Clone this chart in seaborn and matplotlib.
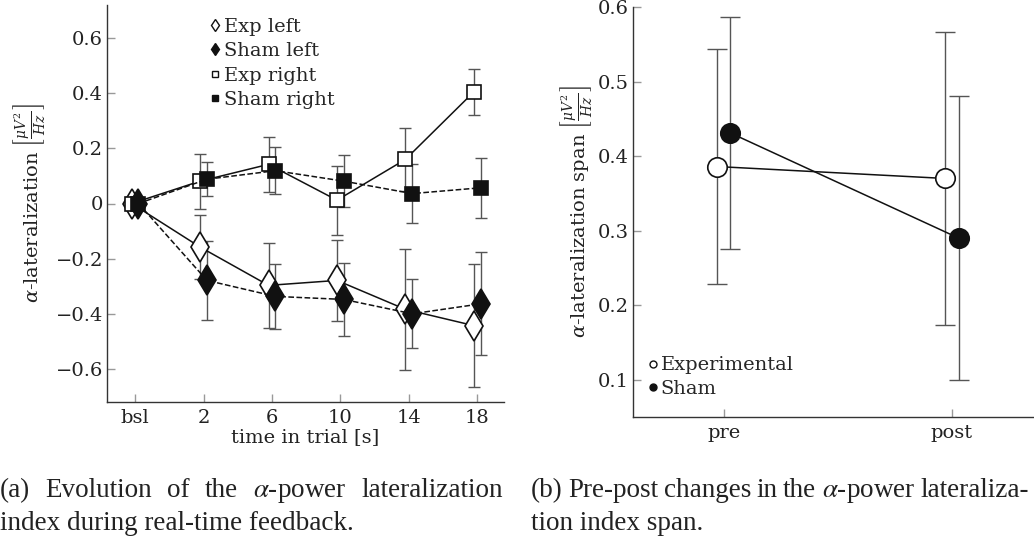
import numpy as np
import matplotlib
matplotlib.use('Agg')
import matplotlib.pyplot as plt
import seaborn as sns
from matplotlib.lines import Line2D

# ---------------- data ----------------
time_labels = ['bsl', '2', '6', '10', '14', '18']
exp_left = [0.0, -0.158, -0.297, -0.279, -0.384, -0.443]
exp_left_err = [0.0, 0.115, 0.154, 0.147, 0.220, 0.222]
sham_left = [0.0, -0.279, -0.337, -0.348, -0.400, -0.364]
sham_left_err = [0.0, 0.142, 0.118, 0.131, 0.125, 0.187]
exp_right = [0.0, 0.081, 0.142, 0.012, 0.160, 0.405]
exp_right_err = [0.0, 0.100, 0.100, 0.125, 0.113, 0.084]
sham_right = [0.0, 0.088, 0.119, 0.081, 0.036, 0.057]
sham_right_err = [0.0, 0.062, 0.086, 0.095, 0.107, 0.108]
left_ytick_vals = [-0.6, -0.4, -0.2, 0.0, 0.2, 0.4, 0.6]
left_ytick_labels = ['\u22120.6', '\u22120.4', '\u22120.2', '0', '0.2', '0.4', '0.6']

phase_labels = ['pre', 'post']
span_exp = [0.386, 0.370]
span_exp_err = [0.158, 0.196]
span_sham = [0.431, 0.290]
span_sham_err = [0.155, 0.190]
right_ytick_vals = [0.1, 0.2, 0.3, 0.4, 0.5, 0.6]

caption_a = [r'(a) Evolution of the $\alpha$-power lateralization',
             'index during real-time feedback.']
caption_b = [r'(b) Pre-post changes in the $\alpha$-power lateraliza-',
             'tion index span.']

# ---------------- style ----------------
sns.set_style('ticks')
plt.rcParams['font.family'] = ['DejaVu Serif']
plt.rcParams['mathtext.fontset'] = 'dejavuserif'

W, H = 1034, 541
fig = plt.figure(figsize=(W / 100, H / 100), dpi=100)
fig.patch.set_facecolor('white')

def px_axes(l, t, r, b):
    return fig.add_axes([l / W, 1 - b / H, (r - l) / W, (b - t) / H])

ax1 = px_axes(107, 5, 504, 402)
ax2 = px_axes(633, 7, 1034, 417)

LINE = '#111111'
ERR = '#555555'
FS = 14

# ---------------- left panel ----------------
xi = np.arange(len(time_labels))
dodge = 0.05
series = [
    (exp_left, exp_left_err, 'd', 15, 'white', '-', -dodge),
    (sham_left, sham_left_err, 'd', 15, LINE, '--', dodge),
    (exp_right, exp_right_err, 's', 10, 'white', '-', -dodge),
    (sham_right, sham_right_err, 's', 10, LINE, '--', dodge),
]
for vals, errs, mk, ms, fc, ls, off in series:
    xs = xi + off
    err_arr = np.array(errs)
    mask = err_arr > 0
    ax1.errorbar(xs[mask], np.array(vals)[mask], yerr=err_arr[mask], fmt='none',
                 ecolor=ERR, elinewidth=1.0, capsize=4.5, capthick=1.0, zorder=2)
    sns.lineplot(x=xs, y=vals, ax=ax1, color=LINE, linewidth=1.1, linestyle=ls,
                 marker=mk, markersize=ms, markerfacecolor=fc, markeredgecolor=LINE,
                 markeredgewidth=1.2, sort=False, errorbar=None, zorder=3,
                 dashes=False if ls == '-' else (5, 3.5))

ax1.set_xlim(-0.41, 5.39)
ax1.set_ylim(-0.72, 0.72)
ax1.set_xticks(xi)
ax1.set_xticklabels(time_labels)
ax1.set_yticks(left_ytick_vals)
ax1.set_yticklabels(left_ytick_labels)
ax1.set_xlabel('time in trial [s]', fontsize=FS)
ax1.xaxis.set_label_coords(0.5, -0.065)
ax1.set_ylabel(r'$\alpha$-lateralization $\left[\frac{\mu V^2}{Hz}\right]$', fontsize=FS)
ax1.yaxis.set_label_coords(-0.15, 0.5)

leg_handles1 = [
    Line2D([], [], linestyle='none', marker='d', markersize=6.5, markerfacecolor='white',
           markeredgecolor=LINE, markeredgewidth=1.0),
    Line2D([], [], linestyle='none', marker='d', markersize=6.5, markerfacecolor=LINE,
           markeredgecolor=LINE),
    Line2D([], [], linestyle='none', marker='s', markersize=4.5, markerfacecolor='white',
           markeredgecolor=LINE, markeredgewidth=1.0),
    Line2D([], [], linestyle='none', marker='s', markersize=4.5, markerfacecolor=LINE,
           markeredgecolor=LINE),
]
ax1.legend(leg_handles1, ['Exp left', 'Sham left', 'Exp right', 'Sham right'],
           loc='upper left', bbox_to_anchor=(0.262, 0.968), frameon=False,
           handlelength=0.45, handletextpad=0.2, labelspacing=0.33,
           borderpad=0, borderaxespad=0, fontsize=FS)

# ---------------- right panel ----------------
xp = np.arange(len(phase_labels))
dodge2 = 0.03
for vals, errs, fc, off in [(span_exp, span_exp_err, 'white', -dodge2),
                            (span_sham, span_sham_err, LINE, dodge2)]:
    xs = xp + off
    ax2.errorbar(xs, vals, yerr=errs, fmt='none', ecolor=ERR, elinewidth=1.0,
                 capsize=7, capthick=1.0, zorder=2)
    sns.lineplot(x=xs, y=vals, ax=ax2, color=LINE, linewidth=1.1, marker='o',
                 markersize=14, markerfacecolor=fc, markeredgecolor=LINE,
                 markeredgewidth=1.2, sort=False, errorbar=None, zorder=3)

ax2.set_xlim(-0.397, 1.36)
ax2.set_ylim(0.05, 0.6)
ax2.set_xticks(xp)
ax2.set_xticklabels(phase_labels)
ax2.set_yticks(right_ytick_vals)
ax2.set_yticklabels([f'{v:.1f}' for v in right_ytick_vals])
ax2.set_ylabel(r'$\alpha$-lateralization span $\left[\frac{\mu V^2}{Hz}\right]$', fontsize=FS)
ax2.yaxis.set_label_coords(-0.098, 0.5)

leg_handles2 = [
    Line2D([], [], linestyle='none', marker='o', markersize=5, markerfacecolor='white',
           markeredgecolor=LINE, markeredgewidth=1.0),
    Line2D([], [], linestyle='none', marker='o', markersize=5, markerfacecolor=LINE,
           markeredgecolor=LINE),
]
ax2.legend(leg_handles2, ['Experimental', 'Sham'], loc='upper left',
           bbox_to_anchor=(0.04, 0.148), frameon=False, handlelength=0.45,
           handletextpad=0.15, labelspacing=0.3, borderpad=0, borderaxespad=0,
           fontsize=FS)

for ax in (ax1, ax2):
    sns.despine(ax=ax)
    for s in ('left', 'bottom'):
        ax.spines[s].set_color('#333333')
        ax.spines[s].set_linewidth(1.0)
    ax.tick_params(direction='in', length=6, width=1.0, color='#999999',
                   labelsize=FS, labelcolor='#222222')
    ax.tick_params(axis='y', pad=3)
    ax.tick_params(axis='x', pad=5)
    ax.set_facecolor('white')
    ax.xaxis.label.set_color('#222222')
    ax.yaxis.label.set_color('#222222')

# ---------------- captions ----------------
cap_fs = 19.5
cap_font = ['Liberation Serif', 'DejaVu Serif']
fig.canvas.draw()
renderer = fig.canvas.get_renderer()

def cap_text(x, y, s):
    return fig.text(x, y, s, fontsize=cap_fs, va='baseline', ha='left',
                    color='#222222', family=cap_font, math_fontfamily='stix')

def justified(text, x0, x1, y):
    words = text.split(' ')
    arts = [cap_text(0, y, w) for w in words]
    widths = [a.get_window_extent(renderer).width for a in arts]
    gap = (x1 - x0 - sum(widths)) / (len(words) - 1)
    x = x0
    for a, w in zip(arts, widths):
        a.set_x(x / W)
        x += w + gap

y1, y2 = 1 - 497 / H, 1 - 530 / H
justified(caption_a[0], 0, 503, y1)
cap_text(0.0, y2, caption_a[1])
justified(caption_b[0], 531, 1029, y1)
cap_text(531 / W, y2, caption_b[1])

fig.savefig('out.png', dpi=100, facecolor='white')
